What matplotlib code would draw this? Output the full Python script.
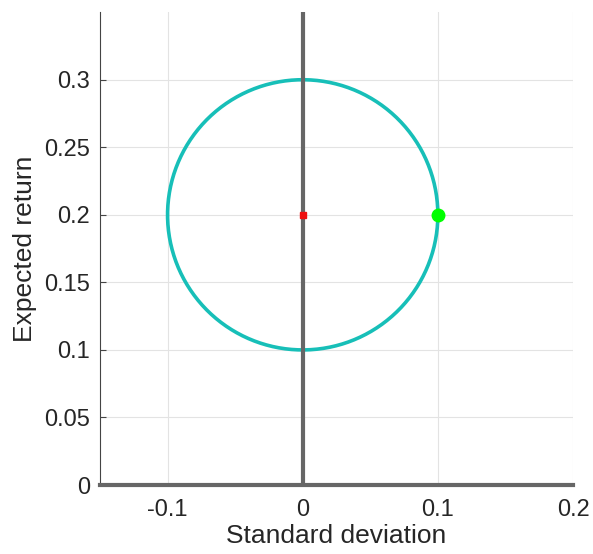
import matplotlib.pyplot as plt
import numpy as np

plt.rcParams['font.family'] = ['Liberation Sans', 'DejaVu Sans']

# frontier circle: centre and radius
centre_sd = 0.0
centre_ret = 0.2
radius = 0.1
# marked points
point_sd = [0.1]
point_ret = [0.2]

xticks = [-0.1, 0, 0.1, 0.2]
xticklabels = ['-0.1', '0', '0.1', '0.2']
yticks = [0, 0.05, 0.1, 0.15, 0.2, 0.25, 0.3]
yticklabels = ['0', '0.05', '0.1', '0.15', '0.2', '0.25', '0.3']

fig = plt.figure(figsize=(5.93, 5.54), dpi=100)
ax = fig.add_axes([0.1686, 0.1245, 0.7977, 0.8535])

t = np.linspace(0, 2 * np.pi, 400)
ax.plot(centre_sd + radius * np.cos(t), centre_ret + radius * np.sin(t),
        color='#17bfb8', lw=2.6, zorder=3)
ax.axvline(0, color='#666666', lw=3, zorder=4)
ax.plot([centre_sd], [centre_ret], marker='s', ms=4, color='#ee1111',
        zorder=5, ls='none')
ax.plot(point_sd, point_ret, 'o', ms=9, color='#00ff00', zorder=6)

ax.set_xlim(-0.15, 0.2)
ax.set_ylim(0, 0.35)
ax.set_xticks(xticks)
ax.set_xticklabels(xticklabels)
ax.set_yticks(yticks)
ax.set_yticklabels(yticklabels)
ax.grid(True, color='#e3e3e3', lw=0.8)
ax.set_axisbelow(True)

for s in ['top', 'right']:
    ax.spines[s].set_visible(False)
ax.spines['left'].set_color('#444444')
ax.spines['left'].set_linewidth(0.8)
ax.spines['bottom'].set_color('#666666')
ax.spines['bottom'].set_linewidth(3)
ax.spines['bottom'].set_zorder(4)

ax.tick_params(axis='y', direction='in', length=4, color='#444444',
               labelsize=17, labelcolor='#262626', pad=7)
ax.tick_params(axis='x', length=0, labelsize=17, labelcolor='#262626', pad=10)

ax.set_xlabel('Standard deviation', fontsize=19, color='#262626', labelpad=2)
ax.set_ylabel('Expected return', fontsize=19, color='#262626', labelpad=5)

fig.savefig('out.png', dpi=100)
